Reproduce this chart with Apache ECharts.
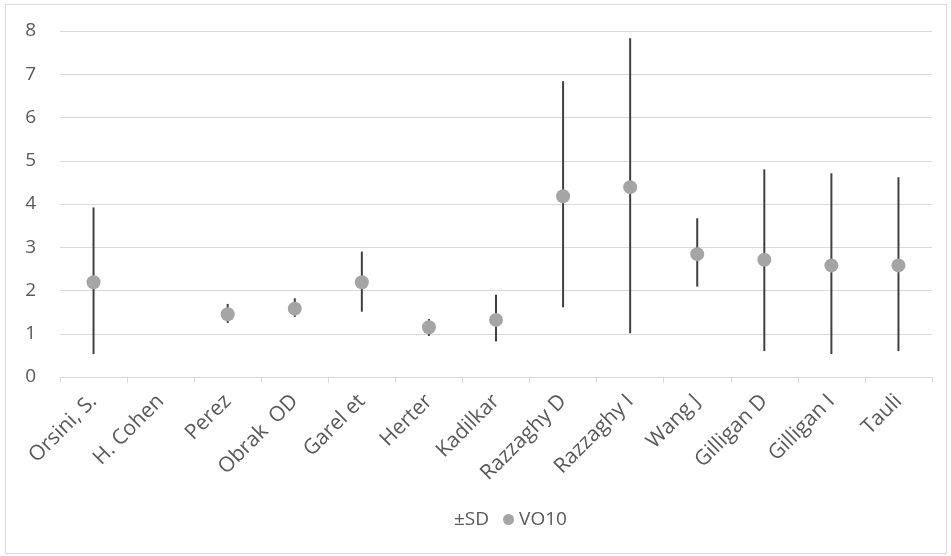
<!DOCTYPE html>
<html>
<head>
<meta charset="utf-8">
<script src="https://cdn.jsdelivr.net/npm/echarts@6/dist/echarts.min.js"></script>
<style>
  html, body { margin: 0; padding: 0; background: #fff; }
  #chart { width: 951px; height: 556px; }
</style>
</head>
<body>
<div id="chart"></div>
<script>
// studies on the x axis
var categories = ['Orsini, S.', 'H. Cohen', 'Perez', 'Obrak  OD', 'Garel et', 'Herter', 'Kadilkar',
  'Razzaghy D', 'Razzaghy I', 'Wang J', 'Gilligan D', 'Gilligan I', 'Tauli'];
// VO10 mean (null = no value)
var vo10 = [2.19, null, 1.45, 1.58, 2.19, 1.15, 1.32, 4.18, 4.39, 2.84, 2.71, 2.58, 2.58];
// ±SD whisker ends
var sdLow = [0.53, null, 1.25, 1.39, 1.51, 0.95, 0.82, 1.61, 1.01, 2.09, 0.60, 0.53, 0.60];
var sdHigh = [3.92, null, 1.69, 1.82, 2.90, 1.34, 1.90, 6.84, 7.83, 3.67, 4.80, 4.71, 4.62];
var yTicks = [0, 1, 2, 3, 4, 5, 6, 7, 8];

var FONT = '"Open Sans", sans-serif';

var barData = [];
for (var i = 0; i < categories.length; i++) {
  if (sdLow[i] != null) barData.push([i, sdLow[i], sdHigh[i]]);
}

var chart = echarts.init(document.getElementById('chart'));
var option = {
  animation: false,
  backgroundColor: '#fff',
  textStyle: { fontFamily: FONT },
  graphic: [{
    type: 'rect',
    shape: { x: 5.5, y: 4.5, width: 941, height: 549 },
    style: { fill: 'none', stroke: '#d9d9d9', lineWidth: 1 },
    silent: true
  }],
  legend: {
    bottom: 22,
    left: 433,
    itemGap: 14,
    itemWidth: 11,
    itemHeight: 11,
    textStyle: { color: '#595959', fontSize: 19, fontFamily: FONT },
    data: [
      { name: '±SD', icon: 'none' },
      { name: 'VO10', icon: 'circle' }
    ]
  },
  grid: { left: 60, right: 19, top: 31, bottom: 179, containLabel: false },
  xAxis: {
    type: 'category',
    data: categories,
    boundaryGap: true,
    axisLine: { lineStyle: { color: '#d9d9d9', width: 1 } },
    axisTick: { show: true, length: 6, lineStyle: { color: '#d9d9d9' } },
    axisLabel: { rotate: 45, color: '#595959', fontSize: 21, margin: 21, interval: 0, fontFamily: FONT },
    splitLine: { show: false }
  },
  yAxis: {
    type: 'value',
    min: yTicks[0],
    max: yTicks[yTicks.length - 1],
    interval: 1,
    axisLine: { show: false },
    axisTick: { show: false },
    axisLabel: { color: '#595959', fontSize: 19, margin: 24, fontFamily: FONT },
    splitLine: { lineStyle: { color: '#d9d9d9', width: 1 } }
  },
  series: [
    {
      name: '±SD',
      type: 'custom',
      itemStyle: { color: '#404040' },
      renderItem: function (params, api) {
        var x = api.value(0);
        var lo = api.coord([x, api.value(1)]);
        var hi = api.coord([x, api.value(2)]);
        return {
          type: 'line',
          shape: { x1: lo[0], y1: lo[1], x2: hi[0], y2: hi[1] },
          style: { stroke: '#404040', lineWidth: 2 }
        };
      },
      encode: { x: 0, y: [1, 2] },
      data: barData,
      z: 2
    },
    {
      name: 'VO10',
      type: 'scatter',
      symbol: 'circle',
      symbolSize: 14,
      itemStyle: { color: '#a5a5a5', opacity: 1 },
      data: vo10,
      z: 3
    }
  ]
};
chart.setOption(option);
</script>
</body>
</html>
